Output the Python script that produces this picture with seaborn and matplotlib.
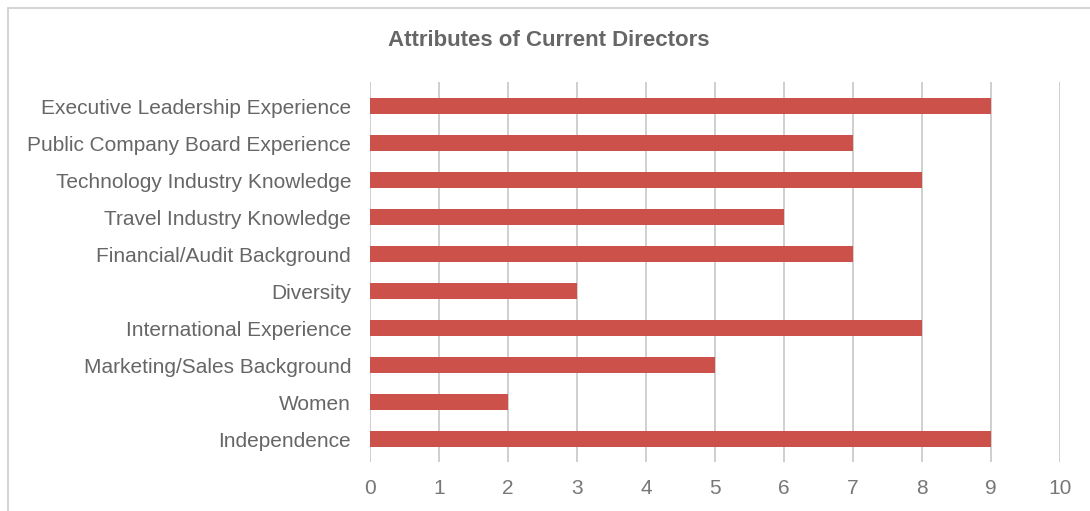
import matplotlib
matplotlib.use("Agg")
import matplotlib.pyplot as plt
import seaborn as sns
import pandas as pd
from matplotlib.patches import Rectangle

categories = [
    "Executive Leadership Experience",
    "Public Company Board Experience",
    "Technology Industry Knowledge",
    "Travel Industry Knowledge",
    "Financial/Audit Background",
    "Diversity",
    "International Experience",
    "Marketing/Sales Background",
    "Women",
    "Independence",
]
values = [9, 7, 8, 6, 7, 3, 8, 5, 2, 9]
x_ticks = [0, 1, 2, 3, 4, 5, 6, 7, 8, 9, 10]
title = "Attributes of Current Directors"

df = pd.DataFrame({"Attribute": categories, "Count": values})

sns.set_theme(style="white")
plt.rcParams["font.family"] = ["Liberation Sans", "DejaVu Sans"]

fig = plt.figure(figsize=(10.9, 5.11), dpi=100)
ax = fig.add_axes([370 / 1090, 1 - 462 / 511, 690 / 1090, 380 / 511])

sns.barplot(data=df, x="Count", y="Attribute", orient="h", color="#cc514a",
            saturation=1, width=0.44, linewidth=0, ax=ax)

ax.set_axisbelow(True)
ax.set_xlim(0, 10)
ax.set_ylim(9.62, -0.65)
ax.set_xticks(x_ticks)
ax.set_xticklabels([str(t) for t in x_ticks])
ax.xaxis.grid(True, color="#cccccc", linewidth=1.3)
ax.yaxis.grid(False)
for s in ax.spines.values():
    s.set_visible(False)
ax.set_xlabel("")
ax.set_ylabel("")
ax.tick_params(axis="y", length=0, pad=13.5, labelsize=15, labelcolor="#666666")
ax.tick_params(axis="x", length=0, pad=12, labelsize=15, labelcolor="#777777")

fig.text(549 / 1090, 1 - 41 / 511, title, ha="center", va="center",
         fontsize=16, fontweight="bold", color="#666666")

fig.patches.append(Rectangle((8 / 1090, -0.1), 1.2, 1.1 - 8 / 511,
                             transform=fig.transFigure, fill=False,
                             edgecolor="#d0d0d0", linewidth=1.3))

fig.savefig("out.png", dpi=100)
